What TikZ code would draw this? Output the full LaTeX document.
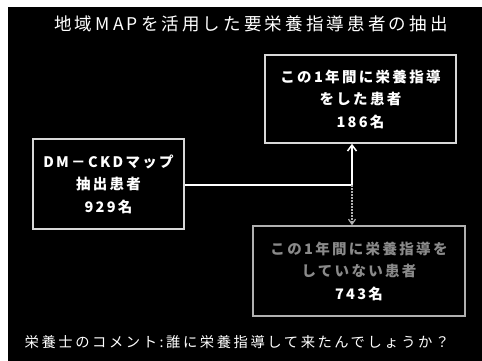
\documentclass[tikz,border=0pt]{standalone}
\usepackage{fontspec}
\setmainfont{Noto Sans CJK JP}
\newfontfamily\jpt[LetterSpace=16]{Noto Sans CJK JP}
\newfontfamily\jph[LetterSpace=18]{Noto Sans CJK JP}
\usetikzlibrary{arrows.meta}
\definecolor{boxline}{HTML}{D8D8D8}
\definecolor{dimtext}{HTML}{8A8A8A}
\definecolor{dimline}{HTML}{B0B0B0}
\tikzset{
  infobox/.style={draw=boxline, line width=1.6pt, rectangle, inner sep=0pt,
    align=center, text=white, font=\jpt\bfseries\fontsize{14.5}{22.5}\selectfont},
  flow/.style={draw=white, line width=1.5pt},
  dimflow/.style={draw=dimline, line width=1.2pt, dash pattern=on 1.5pt off 1.5pt},
}
\begin{document}
\begin{tikzpicture}[x=1pt,y=-1pt]
\useasboundingbox (0,0) rectangle (482,361);
\fill[white] (0,0) rectangle (482,361);
\fill[black] (8,7) rectangle (482,361);
\node[text=white, font=\jph\fontsize{17.5}{20}\selectfont] (title) at (251,24) {地域MAPを活用した要栄養指導患者の抽出};
\node[infobox, minimum width=191pt, minimum height=88pt] (top) at (360.5,99) {この1年間に栄養指導\\をした患者\\186名};
\node[infobox, minimum width=151pt, minimum height=90pt] (left) at (108.5,184) {DM－CKDマップ\\抽出患者\\929名};
\node[infobox, draw=dimline, minimum width=212pt, minimum height=90pt] (bot) at (359,271) {\textcolor{dimtext}{この1年間に栄養指導を}\\\textcolor{dimtext}{していない患者}\\743名};
\coordinate (j) at (352,185);
\draw[flow] (left.east |- j) -- (j);
\draw[flow, -{Straight Barb[length=6pt,width=9pt]}] (j) -- (j |- top.south);
\draw[dimflow, -{Straight Barb[length=5pt,width=7pt]}] (j) -- (j |- bot.north);
\node[text=white, font=\jph\fontsize{14.3}{18}\selectfont] (note) at (237,342) {栄養士のコメント:誰に栄養指導して来たんでしょうか？};
\end{tikzpicture}
\end{document}
